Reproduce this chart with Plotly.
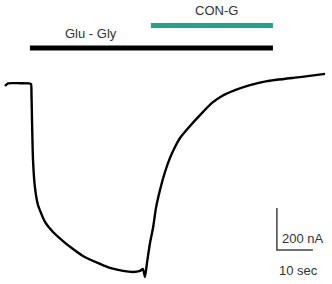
import plotly.graph_objects as go

# Current trace (time in s, current in nA)
time_s = [-7.22, -6.39, -3.06, -0.56, 0.0, 0.14, 0.28, 0.56, 1.11, 1.94, 3.89, 6.11,
          8.89, 11.67, 14.44, 19.17, 21.94, 25.56, 28.33, 30.28, 31.11, 31.67, 32.22,
          33.06, 33.89, 34.72, 35.83, 37.22, 38.61, 40.0, 41.39, 44.17, 46.94, 50.28, 53.06,
          56.67, 60.83, 65.56, 74.72, 81.67]
current_nA = [-9.5, 3.3, 3.8, 3.3, 0.0, -52, -171, -362, -495, -576, -657, -705,
              -748, -786, -819, -857, -876, -890, -895, -890, -881, -919, -852,
              -757, -686, -590, -505, -419, -352, -300, -257, -200, -148, -90, -57,
              -29, -5, 14, 33, 48]

# Drug application bars
drug_labels = ["Glu - Gly", "CON-G"]
drug_start = [-0.3, 33.3]
drug_end = [67.2, 67.2]
drug_level = [171, 279]
drug_colors = ["#000000", "#22a386"]
label_pos_t = [16.7, 51.4]
label_pos_I = [240, 348]

# Scale bar
scale_t = 10      # sec
scale_I = 200     # nA
scale_origin = (68.3, -790)

fig = go.Figure()

fig.add_trace(go.Scatter(x=time_s, y=current_nA, mode="lines",
                         line=dict(color="#000000", width=2.4, shape="spline", smoothing=0.5),
                         hoverinfo="skip"))

for s, e, lvl, c in zip(drug_start, drug_end, drug_level, drug_colors):
    fig.add_trace(go.Scatter(x=[s, e], y=[lvl, lvl], mode="lines",
                             line=dict(color=c, width=5), hoverinfo="skip"))

for lab, t, i in zip(drug_labels, label_pos_t, label_pos_I):
    fig.add_annotation(x=t, y=i, text=lab, showarrow=False,
                       font=dict(family="Liberation Sans, Arial", size=13, color="#333333"))

ox, oy = scale_origin
fig.add_trace(go.Scatter(x=[ox, ox, ox + scale_t], y=[oy + scale_I, oy, oy], mode="lines",
                         line=dict(color="#444444", width=1.5), hoverinfo="skip"))
fig.add_annotation(x=ox + 0.9, y=oy + 0.28 * scale_I, text=f"{scale_I} nA", showarrow=False,
                   xanchor="left", font=dict(family="Liberation Sans, Arial", size=13, color="#333333"))
fig.add_annotation(x=ox + 0.59 * scale_t, y=oy - 96, text=f"{scale_t} sec", showarrow=False,
                   font=dict(family="Liberation Sans, Arial", size=13, color="#333333"))

fig.update_layout(width=332, height=284, margin=dict(l=0, r=0, t=0, b=0),
                  paper_bgcolor="white", plot_bgcolor="white", showlegend=False,
                  xaxis=dict(range=[-8.611, 83.61], visible=False, fixedrange=True),
                  yaxis=dict(range=[-952.4, 400], visible=False, fixedrange=True))

fig.write_html("out.html", config={"displayModeBar": False})
